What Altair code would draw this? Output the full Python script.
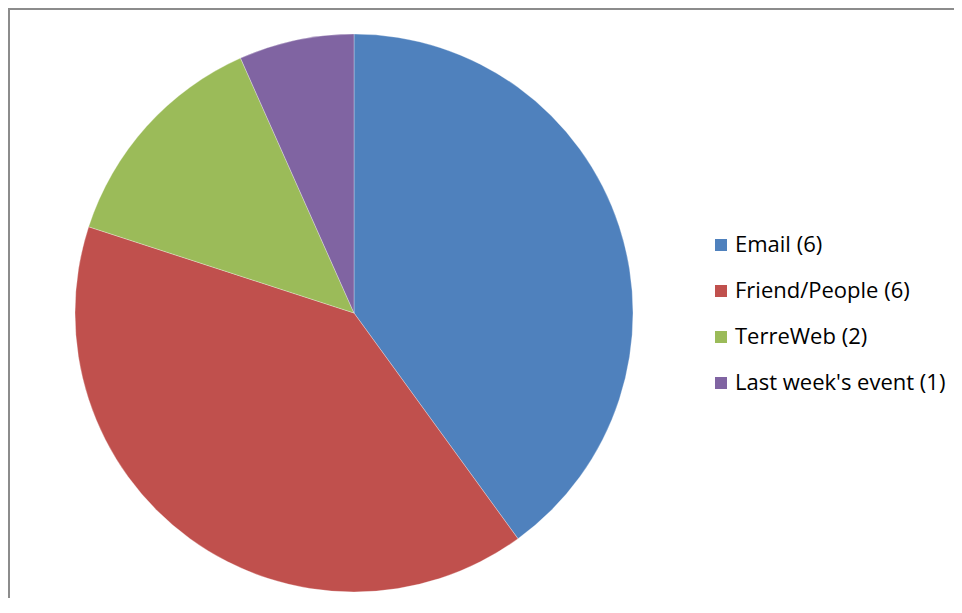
import altair as alt
import pandas as pd

categories = ["Email (6)", "Friend/People (6)", "TerreWeb (2)", "Last week's event (1)"]
values = [6, 6, 2, 1]
colors = ["#4F81BD", "#C0504D", "#9BBB59", "#8064A2"]

df = pd.DataFrame({"category": categories, "value": values, "order": list(range(len(values)))})

pie = alt.Chart(df).mark_arc(outerRadius=279, stroke="white", strokeWidth=0.3).encode(
    theta=alt.Theta("value:Q", stack=True),
    color=alt.Color(
        "category:N",
        scale=alt.Scale(domain=categories, range=colors),
        sort=categories,
        legend=alt.Legend(
            title=None,
            orient="none",
            legendX=702,
            legendY=226,
            symbolType="square",
            symbolSize=144,
            symbolStrokeWidth=0,
            symbolOpacity=1,
            labelFont="Open Sans",
            labelFontSize=22,
            labelColor="#000000",
            labelOffset=3,
            rowPadding=24,
            padding=0,
            labelLimit=400,
        ),
    ),
    order=alt.Order("order:Q"),
    x=alt.value(346),
    y=alt.value(305),
)

frame = pd.DataFrame({"a": [0]})
top = alt.Chart(frame).mark_rule(color="#8c8c8c", strokeWidth=2).encode(
    x=alt.value(0), x2=alt.value(946), y=alt.value(1)
)
left = alt.Chart(frame).mark_rule(color="#8c8c8c", strokeWidth=2).encode(
    x=alt.value(1), y=alt.value(0), y2=alt.value(590)
)

chart = alt.layer(pie, top, left).properties(
    width=946, height=590, padding=0, autosize=alt.AutoSizeParams(type="none")
).configure_view(stroke=None)

chart.save("out.html", embed_options={"renderer": "svg", "actions": False})
